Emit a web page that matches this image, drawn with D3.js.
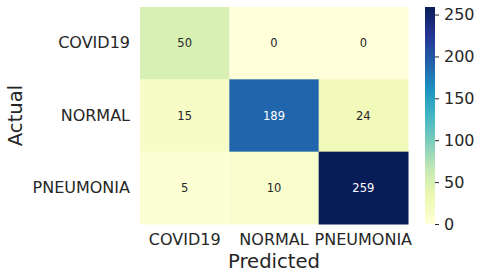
<!DOCTYPE html>
<html><head><meta charset="utf-8">
<script src="https://cdn.jsdelivr.net/npm/d3@7"></script>
<style>html,body{margin:0;padding:0;background:#fff;}svg{display:block;}</style>
</head><body>
<svg id="c" width="483" height="279"></svg>
<script>
const categories = ["COVID19", "NORMAL", "PNEUMONIA"];
const rowCOVID19 = [50, 0, 0];
const rowNORMAL = [15, 189, 24];
const rowPNEUMONIA = [5, 10, 259];
const colorbarTicks = [0, 50, 100, 150, 200, 250];
const paletteYlGnBu = ["#ffffd9","#edf8b1","#c7e9b4","#7fcdbb","#41b6c4","#1d91c0","#225ea8","#253494","#081d58"];

(function () {
const rows = [rowCOVID19, rowNORMAL, rowPNEUMONIA];
const cells = [];
rows.forEach((r, i) => r.forEach((v, j) => cells.push({actual: categories[i], predicted: categories[j], value: v})));

const vmax = d3.max(cells, d => d.value);
const svg = d3.select("#c");
const font = "DejaVu Sans, sans-serif";
const txt = "#262626";

const pLeft = 140, pRight = 408, pTop = 7, pBottom = 224;
const x = d3.scaleBand().domain(categories).range([pLeft, pRight]);
const y = d3.scaleBand().domain(categories).range([pTop, pBottom]);
const color = d3.scaleLinear()
  .domain(paletteYlGnBu.map((_, i) => i / (paletteYlGnBu.length - 1) * vmax))
  .range(paletteYlGnBu).interpolate(d3.interpolateRgb).clamp(true);

svg.append("g").selectAll("rect").data(cells).join("rect")
  .attr("x", d => x(d.predicted)).attr("y", d => y(d.actual))
  .attr("width", x.bandwidth() + 0.5).attr("height", y.bandwidth() + 0.5)
  .attr("fill", d => color(d.value));

function lum(c) {
  const rgb = d3.rgb(c);
  const f = v => { v /= 255; return v <= 0.03928 ? v / 12.92 : Math.pow((v + 0.055) / 1.055, 2.4); };
  return 0.2126 * f(rgb.r) + 0.7152 * f(rgb.g) + 0.0722 * f(rgb.b);
}
svg.append("g").selectAll("text").data(cells).join("text")
  .attr("x", d => x(d.predicted) + x.bandwidth() / 2)
  .attr("y", d => y(d.actual) + y.bandwidth() / 2)
  .attr("dy", "0.36em").attr("text-anchor", "middle")
  .attr("font-family", font).attr("font-size", "11.5px")
  .attr("fill", d => lum(color(d.value)) > 0.408 ? txt : "#ffffff")
  .text(d => d.value);

const xAxis = svg.append("g").attr("transform", `translate(0,${pBottom})`)
  .call(d3.axisBottom(x).tickSize(0).tickPadding(10));
const yAxis = svg.append("g").attr("transform", `translate(${pLeft},0)`)
  .call(d3.axisLeft(y).tickSize(0).tickPadding(10));
[xAxis, yAxis].forEach(g => {
  g.select(".domain").remove();
  g.selectAll("text").attr("font-family", font).attr("font-size", "16px").attr("fill", txt);
});

svg.append("text").attr("x", (pLeft + pRight) / 2).attr("y", 268)
  .attr("text-anchor", "middle").attr("font-family", font).attr("font-size", "19.6px")
  .attr("fill", txt).text("Predicted");
svg.append("text").attr("transform", `translate(22,${(pTop + pBottom) / 2}) rotate(-90)`)
  .attr("text-anchor", "middle").attr("font-family", font).attr("font-size", "19.6px")
  .attr("fill", txt).text("Actual");

const cbX = 425, cbW = 10;
const grad = svg.append("defs").append("linearGradient").attr("id", "cbg")
  .attr("x1", 0).attr("y1", 1).attr("x2", 0).attr("y2", 0);
paletteYlGnBu.forEach((c, i) => grad.append("stop")
  .attr("offset", i / (paletteYlGnBu.length - 1)).attr("stop-color", c));
svg.append("rect").attr("x", cbX).attr("y", pTop).attr("width", cbW).attr("height", pBottom - pTop)
  .attr("fill", "url(#cbg)");
const cy = d3.scaleLinear().domain([0, vmax]).range([pBottom, pTop]);
const cbAxis = svg.append("g").attr("transform", `translate(${cbX + cbW},0)`)
  .call(d3.axisRight(cy).tickValues(colorbarTicks).tickSize(4).tickPadding(5).tickFormat(d3.format("d")));
cbAxis.select(".domain").remove();
cbAxis.selectAll("line").attr("stroke", txt).attr("stroke-width", 1);
cbAxis.selectAll("text").attr("font-family", font).attr("font-size", "16px").attr("fill", txt);
})();
</script>
</body></html>
